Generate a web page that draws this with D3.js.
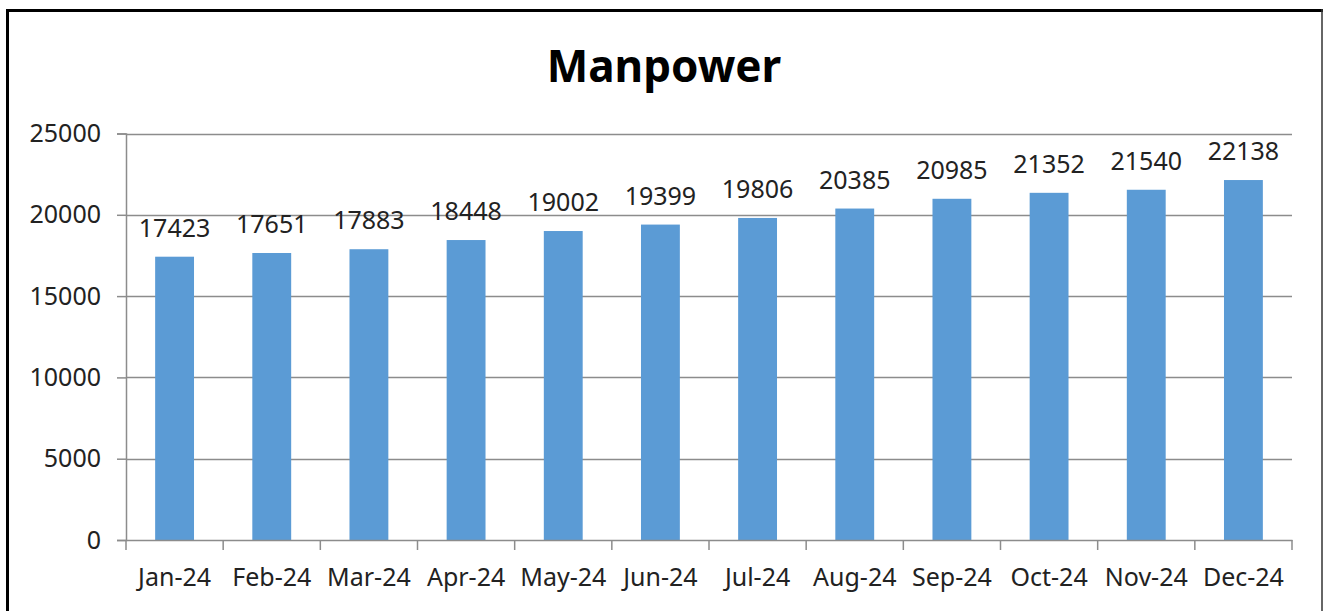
<!DOCTYPE html>
<html>
<head>
<meta charset="utf-8">
<script src="https://cdn.jsdelivr.net/npm/d3@7"></script>
<style>
  body { margin: 0; background: #fff; }
  svg text { font-family: "Noto Sans", "Open Sans", sans-serif; fill: #222; }
</style>
</head>
<body>
<div id="chart"></div>
<script>
"use strict";

const months = ["Jan-24", "Feb-24", "Mar-24", "Apr-24", "May-24", "Jun-24",
  "Jul-24", "Aug-24", "Sep-24", "Oct-24", "Nov-24", "Dec-24"];
const manpower = [17423, 17651, 17883, 18448, 19002, 19399,
  19806, 20385, 20985, 21352, 21540, 22138];
const yTicks = [0, 5000, 10000, 15000, 20000, 25000];

const W = 1325, H = 611;
const plot = { left: 126, right: 1292, top: 133.5, bottom: 540 };

const svg = d3.select("#chart").append("svg")
  .attr("width", W)
  .attr("height", H);

// frame around the chart
svg.append("rect").attr("x", 0).attr("y", 0).attr("width", W).attr("height", H).attr("fill", "#fff");
svg.append("line").attr("x1", 7.5).attr("x2", 7.5).attr("y1", 9).attr("y2", H)
  .attr("stroke", "#000").attr("stroke-width", 3);
svg.append("line").attr("x1", 6).attr("x2", 1323).attr("y1", 10.5).attr("y2", 10.5)
  .attr("stroke", "#000").attr("stroke-width", 3);
svg.append("line").attr("x1", 1322).attr("x2", 1322).attr("y1", 9).attr("y2", H)
  .attr("stroke", "#333").attr("stroke-width", 1.5);

svg.append("text")
  .attr("x", 664)
  .attr("y", 82)
  .attr("text-anchor", "middle")
  .style("font-size", "44px")
  .style("font-weight", "bold")
  .style("fill", "#000")
  .text("Manpower");

let xScale = d3.scaleBand()
  .domain(months)
  .range([plot.left, plot.right])
  .padding(0);

let yScale = d3.scaleLinear()
  .domain([0, 25000])
  .range([plot.bottom, plot.top]);

// gridlines
svg.append("g")
  .selectAll("line")
  .data(yTicks.filter(d => d > 0))
  .join("line")
  .attr("x1", plot.left)
  .attr("x2", plot.right)
  .attr("y1", d => Math.round(yScale(d)) + 0.5)
  .attr("y2", d => Math.round(yScale(d)) + 0.5)
  .attr("stroke", "#8c8c8c")
  .attr("stroke-width", 1.5);

// bars
const barFrac = 0.4;
svg.append("g")
  .selectAll("rect")
  .data(manpower)
  .join("rect")
  .attr("x", (d, i) => xScale(months[i]) + xScale.bandwidth() * (1 - barFrac) / 2)
  .attr("width", xScale.bandwidth() * barFrac)
  .attr("y", d => yScale(d))
  .attr("height", d => yScale(0) - yScale(d))
  .attr("fill", "#5b9bd5");

// data labels
svg.append("g")
  .selectAll("text")
  .data(manpower)
  .join("text")
  .attr("x", (d, i) => xScale(months[i]) + xScale.bandwidth() / 2)
  .attr("y", d => yScale(d) - 20)
  .attr("text-anchor", "middle")
  .style("font-size", "25px")
  .text(d => d);

// y axis
const yAxis = svg.append("g")
  .attr("transform", `translate(${plot.left},0)`)
  .call(d3.axisLeft(yScale).tickValues(yTicks).tickSize(9).tickPadding(16).tickFormat(d => d));
yAxis.selectAll("text").style("font-size", "25px").attr("fill", "#222");

// x axis
const xAxis = svg.append("g")
  .attr("transform", `translate(0,${plot.bottom})`)
  .call(d3.axisBottom(xScale).tickSize(0).tickPadding(28));
xAxis.selectAll("text").style("font-size", "25px").attr("fill", "#222");
// category boundary ticks
xAxis.append("g")
  .selectAll("line")
  .data(months.map(m => xScale(m)).concat([plot.right]))
  .join("line")
  .attr("x1", d => d)
  .attr("x2", d => d)
  .attr("y1", 0)
  .attr("y2", 10)
  .attr("stroke", "#8c8c8c")
  .attr("stroke-width", 1.5);

svg.selectAll(".domain").attr("stroke", "#8c8c8c").attr("stroke-width", 1.5);
svg.selectAll(".tick line").attr("stroke", "#8c8c8c").attr("stroke-width", 1.5);
</script>
</body>
</html>
